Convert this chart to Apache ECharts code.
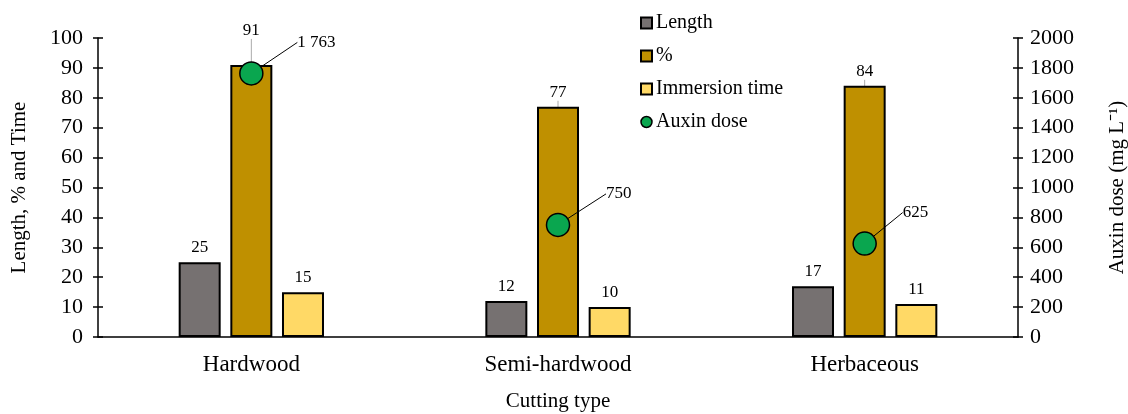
<!DOCTYPE html>
<html><head><meta charset="utf-8">
<script src="https://cdn.jsdelivr.net/npm/echarts@6/dist/echarts.min.js"></script>
<style>html,body{margin:0;padding:0;background:#fff}#c{width:1128px;height:414px}</style>
</head><body><div id="c"></div>
<script>
const categories = ['Hardwood', 'Semi-hardwood', 'Herbaceous'];
const lengthVals = [25, 12, 17];
const pctVals = [91, 77, 84];
const immersionVals = [15, 10, 11];
const auxinVals = [1763, 750, 625];
const auxinLabels = ['1 763', '750', '625'];

const F = 'Liberation Serif, Times New Roman, serif';
const chart = echarts.init(document.getElementById('c'));
const barBase = {
  type: 'bar', barWidth: 42, barGap: '23%',
  itemStyle: { borderColor: '#000', borderWidth: 2 },
  label: { show: true, position: 'top', distance: 6, fontFamily: F, fontSize: 17, color: '#000' }
};
chart.setOption({
  animation: false,
  textStyle: { fontFamily: F },
  grid: { left: 98, right: 110, top: 38, bottom: 77, outerBoundsMode: 'none', containLabel: false },
  legend: {
    orient: 'vertical', left: 635, top: 8, itemGap: 13,
    itemWidth: 11, itemHeight: 11,
    textStyle: { fontFamily: F, fontSize: 20, color: '#000', padding: [0,0,0,-1] },
    data: [
      { name: 'Length', icon: 'rect', itemStyle: { borderColor: '#000', borderWidth: 2 } },
      { name: '%', icon: 'rect', itemStyle: { borderColor: '#000', borderWidth: 2 } },
      { name: 'Immersion time', icon: 'rect', itemStyle: { borderColor: '#000', borderWidth: 2 } },
      { name: 'Auxin dose', icon: 'circle', itemStyle: { borderColor: '#000', borderWidth: 1.5 } }
    ]
  },
  xAxis: {
    type: 'category', data: categories,
    name: 'Cutting type', nameLocation: 'middle', nameGap: 54,
    nameTextStyle: { fontFamily: F, fontSize: 21, color: '#000' },
    axisLine: { lineStyle: { color: '#000', width: 1.5 } },
    axisTick: { show: false },
    axisLabel: { fontFamily: F, fontSize: 23, color: '#000', margin: 16 }
  },
  yAxis: [
    {
      type: 'value', min: 0, max: 100, interval: 10, position: 'left',
      name: 'Length, % and Time', nameLocation: 'middle', nameGap: 68, nameRotate: 90,
      nameTextStyle: { fontFamily: F, fontSize: 21, color: '#000' },
      axisLine: { show: true, lineStyle: { color: '#000', width: 1.5 } },
      axisTick: { show: true, length: 5, lineStyle: { color: '#000', width: 1.5 } },
      axisLabel: { fontFamily: F, fontSize: 22, color: '#000', margin: 15 },
      splitLine: { show: false }
    },
    {
      type: 'value', min: 0, max: 2000, interval: 200, position: 'right',
      name: 'Auxin dose (mg L⁻¹)', nameLocation: 'middle', nameGap: 89, nameRotate: 90,
      nameTextStyle: { fontFamily: F, fontSize: 21, color: '#000' },
      axisLine: { show: true, lineStyle: { color: '#000', width: 1.5 } },
      axisTick: { show: true, length: 5, lineStyle: { color: '#000', width: 1.5 } },
      axisLabel: { fontFamily: F, fontSize: 22, color: '#000', margin: 12, formatter: function (v) { return String(v); } },
      splitLine: { show: false }
    },
    {
      type: 'value', min: 0, max: 100, interval: 10, position: 'left',
      axisLine: { show: false }, axisLabel: { show: false }, splitLine: { show: false },
      axisTick: { show: true, inside: true, length: 5, lineStyle: { color: '#000', width: 1.5 } }
    },
    {
      type: 'value', min: 0, max: 2000, interval: 200, position: 'right',
      axisLine: { show: false }, axisLabel: { show: false }, splitLine: { show: false },
      axisTick: { show: true, inside: true, length: 5, lineStyle: { color: '#000', width: 1.5 } }
    }
  ],
  series: [
    Object.assign({}, barBase, { name: 'Length', data: lengthVals, itemStyle: { color: '#767171', borderColor: '#000', borderWidth: 2 } }),
    Object.assign({}, barBase, { name: '%', data: pctVals, itemStyle: { color: '#BF9000', borderColor: '#000', borderWidth: 2 },
      labelLine: { show: true, lineStyle: { color: '#aaa', width: 1 } },
      labelLayout: function (p) { return p.dataIndex === 0 ? { dy: -20 } : {}; } }),
    Object.assign({}, barBase, { name: 'Immersion time', data: immersionVals, itemStyle: { color: '#FFD966', borderColor: '#000', borderWidth: 2 } }),
    {
      name: 'Auxin dose', type: 'scatter', yAxisIndex: 1, data: auxinVals,
      symbol: 'circle', symbolSize: 23, z: 5,
      itemStyle: { color: '#0AA64F', borderColor: '#000', borderWidth: 1.5, opacity: 1 },
      label: {
        show: true, position: 'inside', align: 'left', fontFamily: F, fontSize: 17, color: '#000',
        formatter: function (p) { return auxinLabels[p.dataIndex]; }
      },
      labelLine: { show: true, length2: 0, lineStyle: { color: '#000', width: 1 } },
      labelLayout: function (p) {
        const dx = [46, 48, 38][p.dataIndex];
        return { dx: dx, dy: -31 };
      }
    }
  ]
});
</script></body></html>
